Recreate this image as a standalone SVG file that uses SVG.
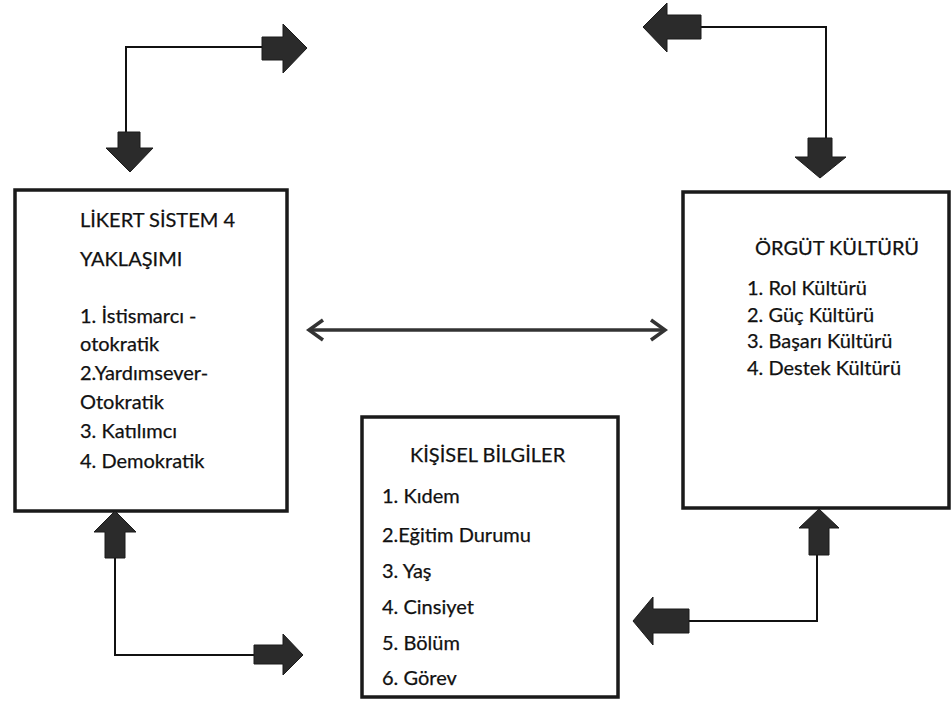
<svg xmlns="http://www.w3.org/2000/svg" width="952" height="710" viewBox="0 0 952 710">
<style>
.box{fill:#fff;stroke:#1a1a1a;stroke-width:3.5}
.t{font-family:Lato,"Open Sans","Noto Sans",sans-serif;font-size:20px;fill:#111;stroke:#111;stroke-width:0.25}
.ln{fill:none;stroke:#111;stroke-width:2}
.ar{fill:#2b2b2b;stroke:#1a1a1a;stroke-width:1}
.dbl{fill:none;stroke:#333;stroke-width:3.5}
</style>
<rect width="952" height="710" fill="#fff"/>
<g id="likert">
<rect class="box" x="15" y="190" width="272" height="321"/>
<text class="t" x="80" y="227">LİKERT SİSTEM 4</text>
<text class="t" x="80" y="266">YAKLAŞIMI</text>
<text class="t" x="80" y="323">1. İstismarcı -</text>
<text class="t" x="80" y="351">otokratik</text>
<text class="t" x="80" y="380">2.Yardımsever-</text>
<text class="t" x="80" y="409">Otokratik</text>
<text class="t" x="80" y="438">3. Katılımcı</text>
<text class="t" x="80" y="468">4. Demokratik</text>
</g>
<g id="orgut">
<rect class="box" x="683" y="192" width="266" height="316"/>
<text class="t" x="755" y="255">ÖRGÜT KÜLTÜRÜ</text>
<text class="t" x="747" y="295">1. Rol Kültürü</text>
<text class="t" x="747" y="322">2. Güç Kültürü</text>
<text class="t" x="747" y="348">3. Başarı Kültürü</text>
<text class="t" x="747" y="375">4. Destek Kültürü</text>
</g>
<g id="kisisel">
<rect class="box" x="362" y="417" width="256" height="280"/>
<text class="t" x="410" y="462">KİŞİSEL BİLGİLER</text>
<text class="t" x="382" y="503">1. Kıdem</text>
<text class="t" x="382" y="542">2.Eğitim Durumu</text>
<text class="t" x="382" y="578">3. Yaş</text>
<text class="t" x="382" y="614">4. Cinsiyet</text>
<text class="t" x="382" y="650">5. Bölüm</text>
<text class="t" x="382" y="685">6. Görev</text>
</g>
<g id="connectors">
<!-- top-left -->
<polyline class="ln" points="262,47 126,47 126,132"/>
<polygon class="ar" points="262,37 283,37 283,24 307,48 283,73 283,60 262,60"/>
<polygon class="ar" points="118,132 140,132 140,148 153,148 130,172 106,148 118,148"/>
<!-- top-right -->
<polyline class="ln" points="701,27 826,27 826,138"/>
<polygon class="ar" points="701,15 667,15 667,3 643,27 667,52 667,39 701,39"/>
<polygon class="ar" points="808,138 832,138 832,157 846,157 820,178 795,157 808,157"/>
<!-- middle double arrow -->
<line class="dbl" x1="310" y1="330" x2="664" y2="330"/>
<polyline class="dbl" points="323,320 309,330 323,340"/>
<polyline class="dbl" points="651,320 665,330 651,340"/>
<!-- bottom-left -->
<polyline class="ln" points="115,558 115,655 254,655"/>
<polygon class="ar" points="105,558 125,558 125,532 136,532 115,511 94,532 105,532"/>
<polygon class="ar" points="254,645 283,645 283,634 303,655 283,675 283,664 254,664"/>
<!-- bottom-right -->
<polyline class="ln" points="817,555 817,621 689,621"/>
<polygon class="ar" points="809,555 829,555 829,528 839,528 819,509 799,528 809,528"/>
<polygon class="ar" points="689,609 653,609 653,597 633,621 653,645 653,633 689,633"/>
</g>
</svg>
